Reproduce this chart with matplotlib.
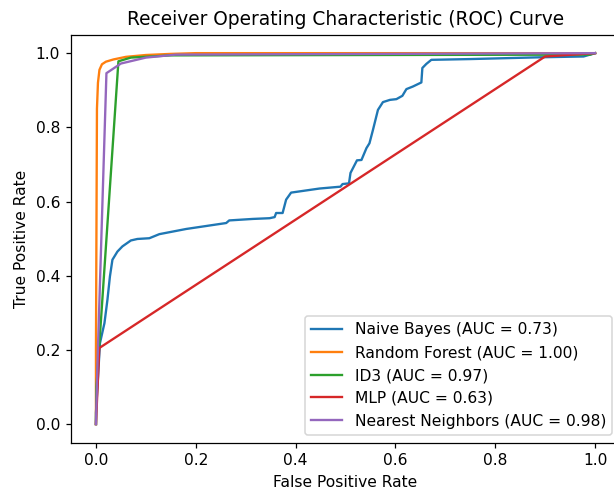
import matplotlib
matplotlib.use("Agg")
import matplotlib.pyplot as plt

# ROC points
nb_fpr = [0.0, 0.0, 0.003, 0.008, 0.017, 0.023, 0.028, 0.033, 0.043, 0.053, 0.070,
          0.083, 0.107, 0.127, 0.154, 0.181, 0.221, 0.261, 0.267, 0.314, 0.348,
          0.358, 0.361, 0.374, 0.381, 0.391, 0.448, 0.490, 0.494, 0.507, 0.510,
          0.523, 0.532, 0.542, 0.548, 0.555, 0.565, 0.575, 0.589, 0.602, 0.614,
          0.622, 0.635, 0.652, 0.654, 0.662, 0.672, 0.749, 0.896, 0.977, 1.0]
nb_tpr = [0.0, 0.03, 0.10, 0.218, 0.272, 0.335, 0.398, 0.443, 0.465, 0.479, 0.495,
          0.499, 0.501, 0.512, 0.519, 0.526, 0.534, 0.542, 0.549, 0.553, 0.555,
          0.558, 0.569, 0.569, 0.605, 0.624, 0.635, 0.640, 0.647, 0.649, 0.677,
          0.711, 0.712, 0.744, 0.757, 0.793, 0.847, 0.868, 0.874, 0.876, 0.885,
          0.903, 0.910, 0.921, 0.960, 0.971, 0.982, 0.984, 0.989, 0.991, 1.0]

rf_fpr = [0.0, 0.0, 0.002, 0.004, 0.007, 0.012, 0.02, 0.035, 0.06, 0.1, 0.15, 0.2, 0.3, 1.0]
rf_tpr = [0.0, 0.2, 0.85, 0.92, 0.955, 0.97, 0.977, 0.983, 0.99, 0.995, 0.998, 1.0, 1.0, 1.0]

id3_fpr = [0.0, 0.001, 0.045, 0.07, 0.15, 0.99, 1.0]
id3_tpr = [0.0, 0.10, 0.978, 0.988, 0.994, 0.996, 1.0]

mlp_fpr = [0.0, 0.0067, 0.9, 1.0]
mlp_tpr = [0.0, 0.205, 0.991, 1.0]

knn_fpr = [0.0, 0.003, 0.021, 0.05, 0.1, 0.16, 1.0]
knn_tpr = [0.0, 0.16, 0.946, 0.972, 0.988, 0.996, 1.0]

names = ["Naive Bayes", "Random Forest", "ID3", "MLP", "Nearest Neighbors"]
aucs = [0.73, 1.00, 0.97, 0.63, 0.98]

curves = [(nb_fpr, nb_tpr), (rf_fpr, rf_tpr), (id3_fpr, id3_tpr),
          (mlp_fpr, mlp_tpr), (knn_fpr, knn_tpr)]

# the reference looks rendered at ~112 dpi and cropped on the right
dpi = 112
fig = plt.figure(figsize=(614 / dpi, 493 / dpi), dpi=dpi)
ax = fig.add_axes([71 / 614, 50.4 / 493, 549 / 614, 408 / 493])

for (fpr, tpr), name, auc in zip(curves, names, aucs):
    ax.plot(fpr, tpr, label=f"{name} (AUC = {auc:.2f})")

ax.set_xlabel("False Positive Rate")
ax.set_ylabel("True Positive Rate")
ax.set_title("Receiver Operating Characteristic (ROC) Curve")
ax.legend(loc="lower right")

fig.savefig("out.png", dpi=dpi)
